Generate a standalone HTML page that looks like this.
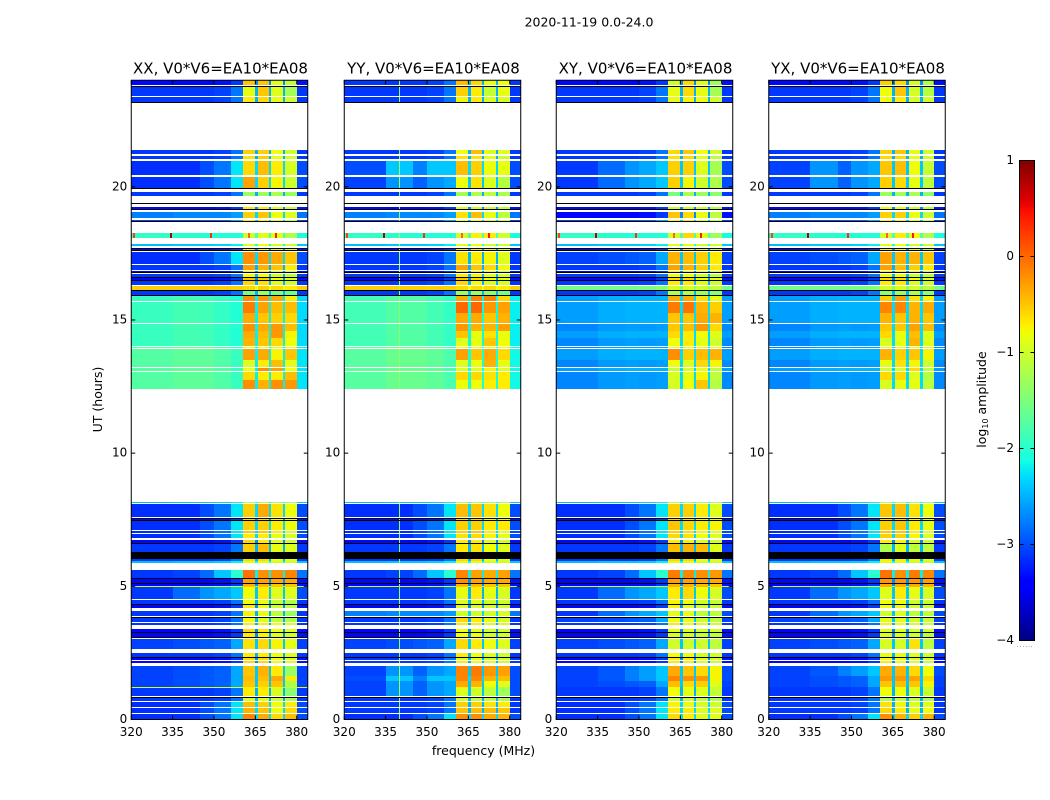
<!DOCTYPE html>
<html lang="en">
<head>
<meta charset="utf-8">
<title>2020-11-19 0.0-24.0</title>
<style>
html,body{margin:0;padding:0;background:#fff;}
svg{display:block;}
text{font-family:"DejaVu Sans","Liberation Sans",sans-serif;fill:#000;}
</style>
</head>
<body>
<svg id="chart" xmlns="http://www.w3.org/2000/svg" width="1050" height="800" viewBox="0 0 1050 800">
  <defs>
    <linearGradient id="jetGradient" x1="0" y1="1" x2="0" y2="0"></linearGradient>
  </defs>
  <text x="589" y="26.5" font-size="12.5" text-anchor="middle">2020-11-19 0.0-24.0</text>
  <text x="483.5" y="755" font-size="12.5" text-anchor="middle">frequency (MHz)</text>
  <text x="102" y="399.5" font-size="12.5" text-anchor="middle" transform="rotate(-90 102 399.5)">UT (hours)</text>
  <text x="986" y="399.5" font-size="12.5" text-anchor="middle" transform="rotate(-90 986 399.5)">log<tspan font-size="8" dy="2">10</tspan><tspan dy="-2"> amplitude</tspan></text>
  <g id="panels"></g>
  <g id="colorbar"></g>
</svg>
<script>
// ---- categories and axes ----
const panelTitles = ['XX, V0*V6=EA10*EA08', 'YY, V0*V6=EA10*EA08', 'XY, V0*V6=EA10*EA08', 'YX, V0*V6=EA10*EA08'];
const freqTicks = [320, 335, 350, 365, 380];
const utTicks = [0, 5, 10, 15, 20];
const colorTicks = [-4, -3, -2, -1, 0, 1];
const colorTickLabels = ['\u22124', '\u22123', '\u22122', '\u22121', '0', '1'];
const freqRange = [320, 384];
const utRange = [0, 24];
const colorRange = [-4, 1];

// frequency channel groups (MHz)
const freqEdges = [320, 335, 345, 350, 356, 360.4, 364.8, 365.8, 369.8, 370.7, 374.9, 375.8, 380, 384];

// observed UT bands (hours); anything outside these is unobserved (blank)
const utStart = [0,.26,.47,.70,.87,1.19,1.23,1.45,1.63,2.12,2.23,2.36,2.66,3.08,3.28,3.56,3.66,3.87,4.20,4.35,4.54,4.99,5.03,5.14,5.33,5.87,5.95,6.30,6.62,6.81,7.0,7.12,7.5,7.61,8.12,12.41,12.75,13.07,13.22,13.5,13.94,14.04,14.32,14.6,14.88,15.25,15.7,15.93,16.14,16.32,16.51,16.62,16.79,16.89,17.12,17.62,17.78,18.09,18.7,18.82,19.15,19.64,19.95,20.43,21.04,21.22,23.2,23.4,23.84];
const utEnd = [.21,.43,.645,.82,1.19,1.23,1.45,1.63,2.01,2.18,2.33,2.51,3.04,3.25,3.40,3.61,3.81,4.09,4.30,4.48,4.97,5.03,5.10,5.27,5.63,5.95,6.03,6.58,6.73,6.95,7.07,7.46,7.54,8.09,8.17,12.75,13.04,13.18,13.5,13.9,14.0,14.32,14.58,14.84,15.25,15.67,15.9,16.12,16.27,16.46,16.57,16.74,16.85,17.07,17.55,17.66,17.87,18.27,18.76,19.04,19.24,19.8,20.37,20.96,21.14,21.37,23.36,23.73,24];

// flagged samples (drawn black)
const flagStart = [.83,2.33,3.05,3.25,3.83,4.32,5.10,5.29,6.08,6.03,6.58,7.47,7.54,15.91,16.10,16.47,16.58,16.75,17.58,17.67,18.66,19.11,19.38,19.91,23.16,23.76];
const flagEnd = [.86,2.36,3.08,3.28,3.86,4.35,5.14,5.33,6.30,6.06,6.62,7.50,7.58,15.95,16.14,16.51,16.62,16.79,17.62,17.71,18.70,19.15,19.41,19.95,23.20,23.80];

// background spectra, log10 amplitude: five low channels, notch channels, top channels
const bgDeep = [-3.35,-3.35,-3.35,-3.3,-3.1,-2.7,-3.3];
const bgBlue = [-3.1,-3.1,-3.1,-3.05,-2.8,-2.5,-3.1];
const bgLight = [-3.05,-3.0,-2.95,-2.9,-2.55,-2.4,-3.05];
const bgWarm = [-3.05,-2.95,-2.75,-2.6,-2.4,-2.4,-3.0];
const bgTransition = [-3.15,-3.15,-3.0,-2.8,-2.25,-2.3,-3.0];
const bgCyan = [-2.45,-2.4,-2.4,-2.35,-2.2,-2.1,-2.4];
const bgMint = [-1.74,-1.68,-1.68,-1.76,-1.92,-2.2,-2.25];
const bgTeal = [-1.92,-1.84,-1.86,-1.95,-2.05,-2.2,-2.3];
const bgMintY = [-1.72,-1.62,-1.62,-1.68,-1.8,-2.1,-2.15];
const bgTealY = [-1.85,-1.75,-1.75,-1.85,-1.95,-2.15,-2.2];
const bgCross = [-2.72,-2.62,-2.6,-2.62,-2.6,-2.3,-2.7];
const bgCrossHi = [-2.6,-2.52,-2.5,-2.5,-2.5,-2.3,-2.6];
const bgYellow = [-.55,-.55,-.55,-.55,-.55,-.8,-.55];
const bgGreen = [-1.55,-1.55,-1.55,-1.5,-1.4,-1.4,-1.55];
const bgSpots = [-1.95,-2.0,-2.05,-2.05,-2.05,-1.8,-2.1];
const bgOrangeLine = [-1,-1,-1,-1,-1,-1.2,-1];
const bgBlobs = [-3.05,-2.65,-2.9,-2.65,-2.55,-2.4,-3.0];
const bgBlobsHi = [-3.0,-2.4,-2.75,-2.4,-2.4,-2.3,-3.0];
const bgWide = [-3.1,-2.85,-2.65,-2.55,-2.4,-2.4,-3.0];
const bgHalo = [-3.1,-3.05,-2.85,-2.4,-2.0,-2.2,-2.8];
const bgMid = [-2.75,-2.7,-2.7,-2.7,-2.6,-2.3,-2.8];
const backgrounds = {D:bgDeep,B:bgBlue,L:bgLight,W:bgWarm,T:bgTransition,C:bgCyan,N:bgMint,M:bgTeal,n:bgMintY,m:bgTealY,P:bgCross,Q:bgCrossHi,Y:bgYellow,G:bgGreen,S:bgSpots,O:bgOrangeLine,E:bgBlobs,e:bgBlobsHi,F:bgWide,H:bgHalo,I:bgMid};

// one row per UT band: background key, then bright blocks A, B, C, D (log10 amplitude)
const xxRows = [
['T',-.15,-.35,-.6,-.45],['T',-.4,-.5,-.8,-.6],['T',-.45,-.55,-.8,-.7],['B',-.9,-.9,-1,-1.2],['B',-.7,-.7,-.95,-1.4],
['O',-.7,-.7,-.9,-1.1],['L',-.5,-.55,-.5,-1.2],['L',-.45,-.45,-.35,-.7],['L',-.5,-.4,-.7,-1.3],['D',-.6,-.6,-.8,-.9],
['D',-.6,-.6,-.8,-.9],['B',-.7,-.7,-.8,-.9],['L',-.65,-.6,-.75,-.85],['D',-.7,-.75,-.9,-1],['D',-.6,-.7,-.8,-.9],
['B',-.7,-.7,-.8,-.9],['B',-.8,-.9,-1.1,-1.2],['B',-.75,-.85,-1.1,-1.3],['D',-.7,-.8,-1,-1.1],['B',-.8,-.85,-1.05,-1.2],
['F',-.8,-.7,-.9,-.9],['O',-.5,-.5,-.5,-.5],['D',-.4,-.4,-.5,-.5],['D',-.3,-.3,-.35,-.35],['H',-.05,-.2,-.2,-.15],
['C',-.9,-.9,-1,-1],['B',-.6,-.6,-.8,-.9],['B',-.55,-.45,-.85,-.9],['D',-.6,-.7,-.9,-1],['T',-.7,-.7,-.85,-.95],
['T',-.5,-.5,-.7,-.9],['T',-.55,-.55,-.7,-.8],['D',-.6,-.6,-.8,-.9],['T',-.55,-.35,-.65,-.8],['C',-1.1,-1.1,-1.2,-1.2],
['N',-.2,-.4,-.2,-.25],['N',-.6,-.7,-.7,-.45],['N',-.8,-.2,-.3,-.8],['N',-.9,-.7,-.45,-.85],['N',-.3,-.35,-.75,-.5],
['N',-.85,-.9,-.9,-.9],['M',-.4,-.5,-.6,-.8],['M',-.35,-.45,-.25,-.75],['M',-.2,-.35,-.25,-.45],['M',-.35,-.5,-.55,-.6],
['M',-.1,-.3,-.45,-.45],['M',-.2,-.25,-.35,-.7],['B',-1.5,-1.3,-1.5,-1.6],['Y',-.6,-.55,-.6,-.7],['B',-.6,-.65,-.9,-1],
['D',-.5,-.55,-.8,-.9],['B',-.8,-.8,-1,-1.1],['D',-.7,-.7,-.9,-1],['B',-.3,-.4,-.5,-.7],['T',-.2,-.25,-.35,-.5],
['D',-.8,-.8,-.9,-1],['C',-.9,-.8,-1,-1],['S',-1,-.9,-.85,-1.2],['L',-.7,-.7,-.9,-1],['I',-.55,-.5,-.8,-.9],
['D',-.7,-.7,-.9,-1],['B',-1.3,-1.3,-1.2,-1.3],['T',-.3,-.55,-.75,-1],['T',-.6,-.45,-.7,-.95],['B',-.65,-.55,-.85,-1],
['B',-.55,-.55,-.8,-1],['B',-.7,-.6,-.85,-1],['B',-.85,-.5,-.9,-1.25],['D',-.5,-.5,-.9,-1.1]
];
const yyRows = [
['T',-.2,-.2,-.35,-.4],['B',-.5,-.45,-.45,-.5],['B',-.55,-.55,-.65,-.7],['B',-1,-1.1,-1.1,-1.2],['E',-.9,-1,-1.1,-1.3],
['E',-.7,-.8,-1,-1.2],['E',-.35,-.4,-.8,-.9],['e',-.15,-.15,-.4,-.45],['E',-.15,-.1,-.25,-.3],['B',-.7,-.8,-.9,-1],
['B',-.9,-.9,-1,-1],['B',-.7,-.8,-.9,-1],['L',-.6,-.7,-.8,-.9],['D',-.8,-.8,-1,-1],['D',-.8,-.85,-1,-1],
['B',-.7,-.7,-.9,-.95],['B',-.6,-.7,-.85,-.95],['I',-1,-1,-1,-.95],['D',-.9,-.95,-.95,-1],['B',-.9,-.9,-1,-1],
['B',-.85,-.7,-.85,-.95],['O',-.5,-.5,-.5,-.5],['D',-.4,-.4,-.5,-.5],['D',-.2,-.3,-.35,-.35],['H',-.15,-.3,-.35,-.3],
['C',-.9,-.9,-1,-1],['B',-.6,-.6,-.8,-.9],['B',-.7,-.65,-.8,-.9],['D',-.7,-.7,-.9,-1],['T',-.65,-.6,-.75,-.85],
['T',-.55,-.5,-.7,-.85],['T',-.55,-.55,-.7,-.7],['D',-.6,-.6,-.8,-.9],['T',-.45,-.5,-.65,-.8],['C',-1.1,-1.1,-1.2,-1.2],
['n',-.8,-.8,-.7,-.7],['n',-.6,-.6,-.65,-.7],['n',-.9,-.9,-.75,-.9],['n',-.9,-.8,-.4,-.85],['n',-.3,-.5,-.35,-.6],
['n',-.8,-.8,-.8,-.85],['m',-.9,-.85,-.5,-.8],['m',-.5,-.85,-.65,-.85],['m',-.25,-.4,-.4,-.3],['m',-.35,-.35,-.5,-.4],
['m',0,0,-.25,-.3],['m',-.35,-.15,-.15,-.6],['B',-1.3,-1.3,-1.4,-1.5],['Y',-.6,-.6,-.6,-.7],['B',-.6,-.8,-.9,-.95],
['D',-.5,-.6,-.8,-.9],['B',-.7,-.75,-.9,-1],['D',-.7,-.75,-.9,-1],['B',-.3,-.5,-.6,-.8],['B',-.65,-.7,-.75,-.9],
['D',-.7,-.75,-.85,-.95],['C',-.9,-.8,-1,-1],['S',-1,-.75,-.7,-1],['L',-.8,-.8,-.9,-1],['I',-.65,-.45,-.85,-1.1],
['D',-.9,-.95,-1,-1.1],['B',-1.25,-1.2,-1.1,-1.2],['E',-.8,-.65,-.9,-1.15],['e',-.45,-.55,-.8,-.85],['B',-.65,-.65,-.85,-1],
['B',-.8,-.45,-.9,-.9],['B',-.75,-.7,-.95,-.95],['B',-.55,-.7,-1.05,-.85],['B',-.45,-.6,-.85,-.8]
];
const xyRows = [
['T',-.6,-.7,-.9,-.9],['T',-.7,-.7,-.9,-.9],['T',-.75,-.85,-.95,-1],['B',-1,-1,-1.1,-1.2],['B',-.8,-.85,-.9,-1.05],
['B',-.8,-.85,-.9,-1.05],['L',-.45,-.6,-.55,-.9],['W',-.15,-.2,-.25,-.75],['W',-.35,-.5,-.6,-.75],['D',-.7,-.7,-.9,-1],
['D',-.7,-.7,-.9,-1],['B',-.8,-.8,-.95,-1],['L',-1,-1,-1,-1.1],['D',-.95,-.95,-1.05,-1.1],['D',-.85,-.9,-1,-1],
['B',-.7,-.75,-.9,-1],['L',-.8,-.85,-1,-1.1],['F',-.85,-.85,-1.1,-1.1],['D',-.75,-.85,-1,-1.05],['B',-.75,-.8,-1,-1.05],
['F',-.7,-.6,-.8,-.95],['O',-.4,-.4,-.4,-.5],['D',-.4,-.4,-.45,-.5],['D',-.3,-.3,-.35,-.35],['H',-.1,-.15,-.2,-.25],
['C',-.9,-.9,-1,-1],['B',-.6,-.6,-.8,-.9],['B',-.45,-.4,-.45,-.9],['D',-.7,-.75,-.9,-1],['T',-.6,-.65,-.8,-.9],
['T',-.55,-.6,-.75,-.85],['T',-.5,-.6,-.7,-.75],['D',-.6,-.65,-.8,-.9],['T',-.55,-.55,-.7,-.9],['C',-1.1,-1.1,-1.2,-1.2],
['P',-.95,-.8,-.5,-1.15],['P',-.95,-.85,-.75,-1.1],['Q',-1.05,-.95,-.85,-1.1],['P',-.8,-.9,-.6,-.75],['Q',-.2,-.55,-.45,-.4],
['P',-.8,-.85,-.85,-.95],['P',-.8,-.7,-.85,-1],['Q',-.6,-.7,-.8,-.9],['P',-.5,-.45,-.25,-.6],['Q',-.5,-.5,-.35,-.4],
['Q',-.1,-.05,-.4,-.55],['Q',-.35,-.35,-.65,-.85],['B',-1.2,-1.2,-1.3,-1.4],['G',-.95,-.9,-1,-1.1],['B',-.7,-.7,-.9,-1],
['D',-.6,-.6,-.8,-.9],['B',-.8,-.8,-1,-1.1],['D',-.7,-.7,-.9,-1],['B',-.3,-.4,-.55,-.7],['L',-.4,-.45,-.55,-.7],
['D',-.8,-.8,-.9,-1],['C',-.9,-.8,-1,-1],['S',-1,-.6,-.9,-1.3],['L',-.7,-.7,-.9,-1],['D',-.5,-.6,-.85,-1.1],
['D',-1,-1,-1,-1.1],['B',-1.5,-1.2,-1.3,-1.4],['F',-.55,-.75,-1,-1.2],['F',-.55,-.55,-.9,-1.25],['B',-.65,-.6,-.85,-1.1],
['B',-.6,-.5,-.8,-1],['B',-.85,-.75,-.8,-1],['B',-.85,-.6,-.85,-1.25],['D',-1,-.6,-.9,-1.3]
];
const yxRows = [
['T',-.2,-.4,-.55,-.4],['B',-.6,-.7,-.85,-.8],['B',-.65,-.75,-.9,-.85],['B',-1.2,-1.1,-1.1,-1.2],['B',-.8,-.8,-.9,-1.05],
['B',-.8,-.8,-.9,-1.05],['L',-.5,-.45,-.5,-.75],['L',-.25,-.25,-.3,-.6],['W',-.35,-.4,-.6,-.8],['D',-.7,-.8,-.9,-1],
['D',-.8,-.8,-.95,-1],['B',-.85,-.85,-.9,-1],['L',-.95,-.95,-.65,-1.1],['D',-.95,-.95,-1,-1.1],['D',-.9,-.9,-1,-1],
['B',-.75,-.8,-.9,-1],['L',-.9,-.9,-1,-1.05],['F',-1,-.9,-1.1,-1.1],['D',-.8,-.8,-1,-1],['B',-.8,-.8,-1,-1],
['F',-.9,-.7,-.85,-.95],['O',-.4,-.4,-.4,-.4],['D',-.35,-.35,-.35,-.4],['D',-.25,-.25,-.25,-.3],['H',-.05,-.2,-.1,-.15],
['C',-.9,-.9,-1,-1],['B',-.7,-.7,-.85,-.95],['B',-1.2,-.9,-1.1,-1.1],['D',-.7,-.75,-.9,-1],['T',-.55,-.55,-.75,-.9],
['T',-.5,-.5,-.7,-.85],['T',-.55,-.5,-.7,-.85],['D',-.6,-.6,-.8,-.9],['T',-.5,-.45,-.65,-.8],['C',-1.1,-1.1,-1.2,-1.2],
['P',-.95,-.85,-.85,-1.1],['P',-.6,-.6,-.9,-1.15],['Q',-1,-.95,-.6,-1.1],['P',-.85,-.65,-.75,-1],['Q',-.4,-.55,-.5,-.75],
['P',-.85,-.85,-.85,-.95],['P',-.95,-.85,-.4,-.9],['Q',-.6,-.85,-.45,-.9],['P',-.5,-.5,-.3,-.45],['Q',-.4,-.5,-.4,-.5],
['Q',-.15,-.15,-.4,-.35],['Q',-.55,-.3,-.65,-.75],['B',-1.4,-1.3,-1.2,-1.4],['G',-.95,-.9,-1,-1.1],['B',-.7,-.7,-.9,-1],
['D',-.6,-.6,-.8,-.9],['B',-.8,-.8,-1,-1.1],['D',-.7,-.7,-.9,-1],['B',-.3,-.45,-.55,-.7],['L',-.3,-.4,-.4,-.5],
['D',-.8,-.8,-.9,-1],['C',-.9,-.8,-1,-1],['S',-1,-.7,-.8,-1.2],['L',-.7,-.7,-.9,-1],['I',-.55,-.55,-.8,-1],
['D',-.85,-.85,-1,-1.1],['B',-1.3,-1.25,-1.2,-1.35],['E',-.55,-.6,-.85,-1.1],['E',-.5,-.45,-.8,-1.05],['B',-.6,-.6,-.85,-1],
['B',-.55,-.5,-.85,-1],['B',-.8,-.7,-.95,-1],['B',-.8,-.5,-.95,-1.15],['D',-.55,-.6,-.95,-1.2]
];
const panelRows = [xxRows, yyRows, xyRows, yxRows];

// single-channel interference line seen in the YY panel
const yyRfiFreq = [339.9];
const yyRfiLevel = [-1.35];

// hot samples in the band near 18.2 h (frequency in MHz, log10 amplitude)
const hotFreq = [320.8, 334, 348.5, 362.5, 372];
const hotLevel = [.2, .8, .3, 0, .4];
const hotBandIndex = [57];

// ---- layout ----
const panelLeft = [131.25, 344.25, 556.25, 768.75];
const panelWidth = 176.5;
const plotTop = 80.25;
const plotBottom = 719.5;
const cbarLeft = 1019.5, cbarWidth = 15, cbarTop = 160.5, cbarBottom = 640.5;
const SVGNS = 'http://www.w3.org/2000/svg';

function xScale(panel, freq) {
  return panelLeft[panel] + (freq - freqRange[0]) / (freqRange[1] - freqRange[0]) * panelWidth;
}
function yScale(ut) {
  return plotBottom - (ut - utRange[0]) / (utRange[1] - utRange[0]) * (plotBottom - plotTop);
}
function cScale(value) {
  return cbarBottom - (value - colorRange[0]) / (colorRange[1] - colorRange[0]) * (cbarBottom - cbarTop);
}
function lerpStops(stops, t) {
  for (let i = 1; i < stops.length; i++) {
    if (t <= stops[i][0]) {
      const a = stops[i - 1], b = stops[i];
      return a[1] + (b[1] - a[1]) * (t - a[0]) / (b[0] - a[0]);
    }
  }
  return stops[stops.length - 1][1];
}
function jet(t) {
  t = Math.max(0, Math.min(1, t));
  const r = lerpStops([[0,0],[.35,0],[.66,1],[.89,1],[1,.5]], t);
  const g = lerpStops([[0,0],[.125,0],[.375,1],[.64,1],[.91,0],[1,0]], t);
  const b = lerpStops([[0,.5],[.11,1],[.34,1],[.65,0],[1,0]], t);
  return 'rgb(' + Math.round(r * 255) + ',' + Math.round(g * 255) + ',' + Math.round(b * 255) + ')';
}
function valueColor(v) {
  return jet((v - colorRange[0]) / (colorRange[1] - colorRange[0]));
}
function make(tag, parent) {
  const el = document.createElementNS(SVGNS, tag);
  parent.appendChild(el);
  return el;
}
function setAll(el, attrs) {
  for (const k in attrs) el.setAttribute(k, attrs[k]);
}
function rowValues(row) {
  const bg = backgrounds[row[0]];
  return [bg[0], bg[1], bg[2], bg[3], bg[4], row[1], bg[5], row[2], bg[5], row[3], bg[5], row[4], bg[6]];
}
function cellRect(group, x0, x1, y0, y1, fill) {
  const px0 = Math.round(x0), px1 = Math.max(px0 + 1, Math.round(x1));
  const py0 = Math.round(y0), py1 = Math.max(py0 + 1, Math.round(y1));
  const r = make('rect', group);
  
  
  setAll(r, {x: px0, y: py0, width: px1 - px0, height: py1 - py0, fill: fill});
  return r;
}

// ---- panels ----
const panelsGroup = document.getElementById('panels');
panelTitles.forEach(function (title, p) {
  const g = make('g', panelsGroup);
  
  

  const cells = make('g', g);
  
  
  cells.setAttribute('shape-rendering', 'crispEdges');

  const rows = panelRows[p];
  rows.forEach(function (row, b) {
    const vals = rowValues(row);
    const yA = yScale(utEnd[b]), yB = yScale(utStart[b]);
    vals.forEach(function (v, c) {
      cellRect(cells, xScale(p, freqEdges[c]), xScale(p, freqEdges[c + 1]), yA, yB, valueColor(v));
    });
    if (p === 1) {
      yyRfiFreq.forEach(function (f, i) {
        cellRect(cells, xScale(p, f), xScale(p, f) + 1, yA, yB, valueColor(yyRfiLevel[i]));
      });
    }
    if (hotBandIndex.indexOf(b) >= 0) {
      hotFreq.forEach(function (f, i) {
        cellRect(cells, xScale(p, f), xScale(p, f) + 2, yA, yB, valueColor(hotLevel[i]));
      });
    }
  });
  flagStart.forEach(function (s, i) {
    const line = make('rect', cells);
    
    
    const y0 = Math.round(yScale(flagEnd[i])), y1 = Math.max(y0 + 1, Math.round(yScale(s)));
    const xL = Math.round(xScale(p, freqRange[0])), xR = Math.round(xScale(p, freqRange[1]));
    setAll(line, {x: xL, y: y0, width: xR - xL, height: y1 - y0, fill: '#000'});
  });

  // frame
  const frame = make('rect', g);
  
  
  setAll(frame, {x: panelLeft[p], y: plotTop, width: panelWidth, height: plotBottom - plotTop, fill: 'none', stroke: '#000', 'stroke-width': 1});

  // title
  const t = make('text', g);
  
  
  setAll(t, {x: panelLeft[p] + panelWidth / 2 + 1, y: 73.5, 'font-size': 15, 'text-anchor': 'middle'});
  t.textContent = title;

  // x ticks
  freqTicks.forEach(function (f) {
    const x = xScale(p, f);
    const bottomTick = make('line', g);
    
    
    setAll(bottomTick, {x1: x, x2: x, y1: plotBottom, y2: plotBottom - 4, stroke: '#000', 'stroke-width': 1});
    const topTick = make('line', g);
    
    
    setAll(topTick, {x1: x, x2: x, y1: plotTop, y2: plotTop + 4, stroke: '#000', 'stroke-width': 1});
    const label = make('text', g);
    
    
    setAll(label, {x: x, y: 736, 'font-size': 12, 'text-anchor': 'middle'});
    label.textContent = String(f);
  });

  // y ticks
  utTicks.forEach(function (u) {
    const y = yScale(u);
    const leftTick = make('line', g);
    
    
    setAll(leftTick, {x1: panelLeft[p], x2: panelLeft[p] + 4, y1: y, y2: y, stroke: '#000', 'stroke-width': 1});
    const rightTick = make('line', g);
    
    
    setAll(rightTick, {x1: panelLeft[p] + panelWidth, x2: panelLeft[p] + panelWidth - 4, y1: y, y2: y, stroke: '#000', 'stroke-width': 1});
    const label = make('text', g);
    
    
    setAll(label, {x: panelLeft[p] - 4, y: y + 3.5, 'font-size': 12, 'text-anchor': 'end'});
    label.textContent = String(u);
  });
});

// ---- colorbar ----
const gradient = document.getElementById('jetGradient');
for (let i = 0; i <= 64; i++) {
  const stop = make('stop', gradient);
  setAll(stop, {offset: (i / 64 * 100) + '%', 'stop-color': jet(i / 64)});
}
const cbar = document.getElementById('colorbar');
const body = make('rect', cbar);


setAll(body, {x: cbarLeft, y: cbarTop, width: cbarWidth, height: cbarBottom - cbarTop, fill: 'url(#jetGradient)', stroke: '#000', 'stroke-width': 1});
colorTicks.forEach(function (v, i) {
  const y = cScale(v);
  const a = make('line', cbar);
  
  
  setAll(a, {x1: cbarLeft, x2: cbarLeft + 4, y1: y, y2: y, stroke: '#000', 'stroke-width': 1});
  const b = make('line', cbar);
  
  
  setAll(b, {x1: cbarLeft + cbarWidth, x2: cbarLeft + cbarWidth - 4, y1: y, y2: y, stroke: '#000', 'stroke-width': 1});
  const label = make('text', cbar);
  
  
  setAll(label, {x: 1014, y: y + 3.5, 'font-size': 12, 'text-anchor': 'end'});
  label.textContent = colorTickLabels[i];
});
const dots = make('text', cbar);


setAll(dots, {x: 1017, y: 647, 'font-size': 5, fill: '#888', 'letter-spacing': '1.2'});
dots.textContent = '......';
</script>
</body>
</html>
